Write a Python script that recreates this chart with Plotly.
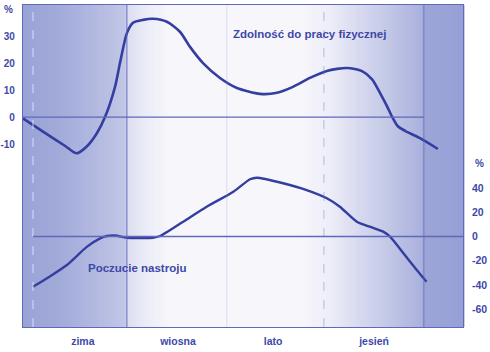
import plotly.graph_objects as go

# ---- data (x in months from start of winter) ----
work_x = [-0.31, 0.32, 1.0, 1.34, 1.65, 1.96, 2.21, 2.52, 2.67, 2.88, 3.07, 3.38, 3.68, 4.11,
          4.51, 4.82, 5.22, 5.74, 6.26, 6.97, 7.49, 7.98, 8.50, 9.02, 9.64, 10.10, 10.41,
          10.65, 10.87, 11.02, 11.20, 11.50, 11.88, 12.43]
work_y = [-0.5, -5.5, -10.8, -13.4, -10.9, -6, 0, 11.3, 20, 31, 34.9, 36, 36.4, 35.3,
          31.6, 26, 20, 14.5, 10.8, 8.6, 9, 11.2, 14.5, 17.1, 18.2, 17, 14,
          9, 4, 0.2, -3.4, -5.6, -7.8, -11.8]

mood_x = [0, 0.52, 1.04, 1.66, 2.06, 2.27, 2.52, 2.88, 3.28, 3.68, 3.90, 4.61, 5.33, 6.15,
          6.66, 6.87, 7.68, 8.40, 9.02, 9.42, 9.94, 10.34, 10.75, 10.96, 11.37, 11.78, 12.08]
mood_y = [-41.5, -33, -23.6, -8.4, -1.5, 0.4, 0.8, -1.0, -1.2, -1.0, 0.4, 12.2, 24.6, 37,
          47.3, 48.6, 44, 38.4, 31.6, 24.6, 12.2, 8.1, 4, -0.2, -13.9, -27.7, -37.4]

seasons = ["zima", "wiosna", "lato", "jesień"]
season_pos = [1.53, 4.45, 7.37, 10.47]
left_ticks = [30, 20, 10, 0, -10]
left_labels = ["30", "20", "10", "0", "-10"]
right_ticks = [40, 20, 0, -20, -40, -60]
right_labels = ["40", "20", "0", "-20", "-40", "-60"]

LINE = "rgb(52,62,160)"
TXT = "rgb(62,72,168)"
FRAME = "rgb(95,105,185)"
W, H = 490, 352
ML, MR, MT, MB = 23, 27, 5, 25
XR = [-0.307, 13.2]

fig = go.Figure()
fig.add_trace(go.Scatter(x=work_x, y=work_y, mode="lines", yaxis="y",
                         line=dict(color=LINE, width=2.6, shape="spline", smoothing=0.7),
                         hoverinfo="skip", showlegend=False))
fig.add_trace(go.Scatter(x=mood_x, y=mood_y, mode="lines", yaxis="y2",
                         line=dict(color=LINE, width=2.4, shape="spline", smoothing=0.7),
                         hoverinfo="skip", showlegend=False))

# ---- background gradient (styling) ----
stops = [(23, 0.72), (60, 0.66), (100, 0.52), (126, 0.42), (128, 0.22), (145, 0.12),
         (170, 0.02), (300, 0.02), (330, 0.1), (370, 0.32), (422, 0.6), (426, 0.7),
         (463, 0.75)]
blue = (118, 130, 200)
white = (250, 250, 253)

def inten(px):
    for (a, ta), (b, tb) in zip(stops[:-1], stops[1:]):
        if a <= px <= b:
            return ta + (tb - ta) * (px - a) / (b - a)
    return stops[-1][1]

shapes = []
pw = W - ML - MR
ph = H - MT - MB
step = 3
px = ML
while px < W - MR:
    t = inten(px + step / 2)
    c = tuple(int(white[i] * (1 - t) + blue[i] * t) for i in range(3))
    shapes.append(dict(type="rect", xref="paper", yref="paper",
                       x0=(px - ML) / pw, x1=(px + step + 0.5 - ML) / pw, y0=0, y1=1,
                       fillcolor="rgb(%d,%d,%d)" % c, line=dict(width=0), layer="below"))
    px += step

# vertical season lines
shapes.append(dict(type="line", xref="x", yref="paper", x0=0, x1=0, y0=0, y1=1,
                   line=dict(color="rgba(235,238,250,0.8)", width=1, dash="dash")))
shapes.append(dict(type="line", xref="x", yref="paper", x0=2.88, x1=2.88, y0=0, y1=1,
                   line=dict(color="rgba(90,100,185,0.8)", width=1)))
shapes.append(dict(type="line", xref="x", yref="paper", x0=5.95, x1=5.95, y0=0, y1=1,
                   line=dict(color="rgba(150,160,210,0.3)", width=1)))
shapes.append(dict(type="line", xref="x", yref="paper", x0=8.93, x1=8.93, y0=0, y1=1,
                   line=dict(color="rgba(110,120,195,0.45)", width=1, dash="dash")))
shapes.append(dict(type="line", xref="x", yref="paper", x0=12.0, x1=12.0, y0=0, y1=1,
                   line=dict(color="rgba(90,100,185,0.8)", width=1)))
# zero lines
shapes.append(dict(type="line", xref="x", yref="y", x0=-0.31, x1=12.0, y0=0, y1=0,
                   line=dict(color=FRAME, width=1.3)))
shapes.append(dict(type="line", xref="x", yref="y2", x0=0, x1=13.2, y0=0, y1=0,
                   line=dict(color=FRAME, width=1.3)))

fig.update_layout(
    width=W, height=H, margin=dict(l=ML, r=MR, t=MT, b=MB, autoexpand=False),
    paper_bgcolor="white", plot_bgcolor="white", shapes=shapes,
    font=dict(family="Liberation Sans, Arial", color=TXT, size=10),
    xaxis=dict(range=XR, showgrid=False, zeroline=False, showline=True, mirror=True,
               linecolor=FRAME, linewidth=1.3, tickvals=season_pos, ticktext=seasons,
               ticks="", tickfont=dict(size=10.5, weight="bold", color=TXT),
               ticklabelstandoff=4, fixedrange=True, automargin=False),
    yaxis=dict(range=[-77.7, 41.5], showgrid=False, zeroline=False, showline=True,
               mirror=True, linecolor=FRAME, linewidth=1.3, tickvals=left_ticks,
               ticktext=left_labels, ticks="",
               tickfont=dict(size=10, weight="bold", color=TXT),
               ticklabelstandoff=5, automargin=False),
    yaxis2=dict(range=[-74.8, 191.3], overlaying="y", side="right", showgrid=False,
                zeroline=False, showline=False, tickvals=right_ticks,
                ticktext=right_labels, ticks="",
                tickfont=dict(size=10.5, weight="bold", color=TXT), ticklabelstandoff=8,
                automargin=False),
    annotations=[
        dict(text="Zdolność do pracy fizycznej", x=8.5, y=30.6, xref="x", yref="y",
             showarrow=False, font=dict(size=11.5, weight="bold", color=TXT)),
        dict(text="Poczucie nastroju", x=3.19, y=-26, xref="x", yref="y2",
             showarrow=False, font=dict(size=11.5, weight="bold", color=TXT)),
        dict(text="%", x=(8 - ML) / pw, y=(H - MB - 9) / ph, xref="paper",
             yref="paper", xanchor="center", yanchor="middle", showarrow=False,
             font=dict(size=10, weight="bold", color=TXT)),
        dict(text="%", x=(479 - ML) / pw, y=(H - MB - 163) / ph, xref="paper",
             yref="paper", xanchor="center", yanchor="middle", showarrow=False,
             font=dict(size=10, weight="bold", color=TXT)),
    ],
)
fig.write_html("out.html")
